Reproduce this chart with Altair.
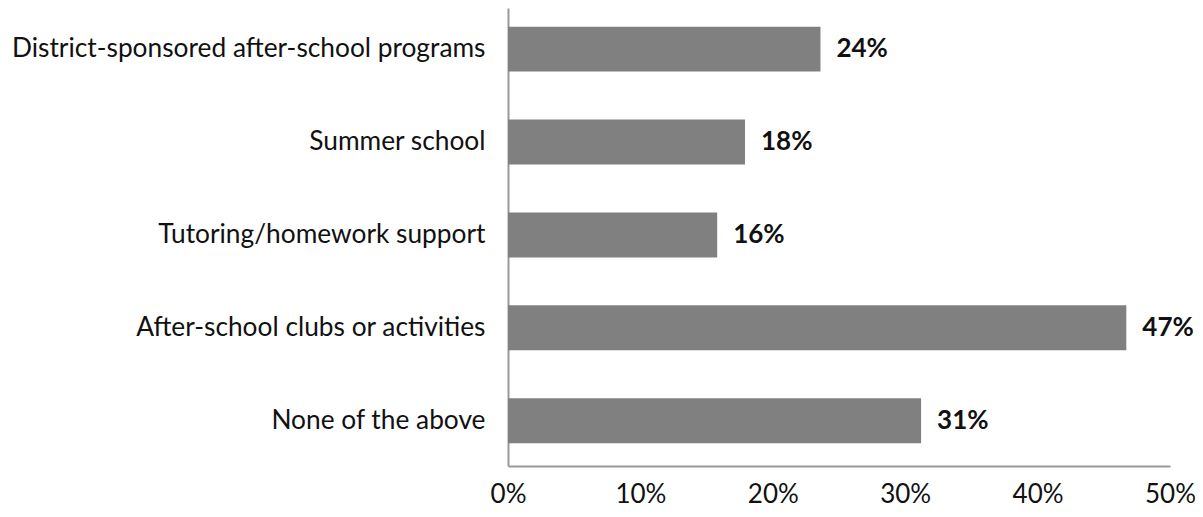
import altair as alt
import pandas as pd

categories = [
    "District-sponsored after-school programs",
    "Summer school",
    "Tutoring/homework support",
    "After-school clubs or activities",
    "None of the above",
]
values = [0.236, 0.179, 0.158, 0.467, 0.312]

df = pd.DataFrame({"category": categories, "value": values})

y_enc = alt.Y(
    "category:N",
    sort=categories,
    title=None,
    scale=alt.Scale(paddingInner=0.516, paddingOuter=0.223, align=0.45),
    axis=alt.Axis(
        ticks=False,
        domain=True,
        domainColor="#999999",
        domainWidth=2,
        labelFont="Lato",
        labelFontSize=26.3,
        labelColor="#111111",
        labelPadding=23,
        labelLimit=600,
    ),
)
x_enc = alt.X(
    "value:Q",
    title=None,
    scale=alt.Scale(domain=[0, 0.5], nice=False),
    axis=alt.Axis(
        format=".0%",
        values=[0, 0.1, 0.2, 0.3, 0.4, 0.5],
        grid=False,
        ticks=False,
        domainColor="#999999",
        domainWidth=2,
        labelFont="Lato",
        labelFontSize=26,
        labelColor="#111111",
        labelPadding=15,
        labelFlush=False,
    ),
)

base = alt.Chart(df).encode(y=y_enc, x=x_enc)
bars = base.mark_bar(color="#808080")
labels = base.mark_text(
    align="left", baseline="middle", dx=16, font="Lato", fontSize=26,
    fontWeight="bold", color="#111111"
).encode(text=alt.Text("value:Q", format=".0%"))

chart = (
    (bars + labels)
    .properties(
        width=662,
        height=458,
        background="white",
        autosize=alt.AutoSizeParams(type="none"),
        padding={"left": 500, "top": 0, "right": 25, "bottom": 42},
    )
    .configure_view(stroke=None, strokeWidth=0)
)

chart.save("out.html", embed_options={"renderer": "svg", "actions": False})
